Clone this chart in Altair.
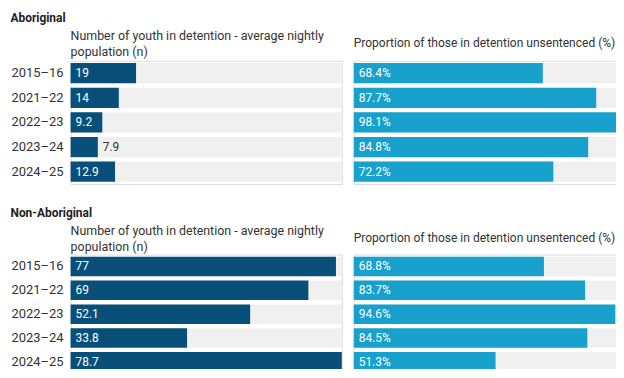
import altair as alt
import pandas as pd

years = ["2015–16", "2021–22", "2022–23", "2023–24", "2024–25"]
abor_n = [19, 14, 9.2, 7.9, 12.9]
abor_pct = [68.4, 87.7, 98.1, 84.8, 72.2]
non_n = [77, 69, 52.1, 33.8, 78.7]
non_pct = [68.8, 83.7, 94.6, 84.5, 51.3]

header_n = ["Number of youth in detention - average nightly", "population (n)"]
header_pct = "Proportion of those in detention unsentenced (%)"

DARK = "#08507a"
LIGHT = "#18a1cd"
BG = "#f0f0f0"
TXT = "#333333"
FONT = "Roboto"

n_max = max(abor_n + non_n)
pct_max = max(abor_pct + non_pct)


def panel(values, vmax, color, header, show_axis, is_pct, title_offset, width, height, hsize):
    df = pd.DataFrame({"year": years, "v": values})
    yaxis = (
        alt.Axis(
            title=None, ticks=False, domain=False, labelAlign="left",
            labelPadding=60, labelFontSize=13, labelColor=TXT, labelFont=FONT,
        )
        if show_axis
        else None
    )
    base = alt.Chart(df).encode(
        y=alt.Y(
            "year:N", sort=years, axis=yaxis,
            scale=alt.Scale(paddingInner=0.18, paddingOuter=0.09),
        )
    )
    xscale = alt.Scale(domain=[0, vmax], nice=False, zero=True)
    bg = base.transform_calculate(full=str(vmax)).mark_bar(color=BG).encode(
        x=alt.X("full:Q", scale=xscale, axis=None)
    )
    bar = base.mark_bar(color=color).encode(
        x=alt.X("v:Q", scale=xscale, axis=None)
    )
    if is_pct:
        lab = "format(datum.v, '.1f') + '%'"
    else:
        lab = "format(datum.v, '~g')"
    txt = (
        base.transform_calculate(
            inside=f"datum.v / {vmax} >= 0.11",
            lab=lab,
        )
        .transform_calculate(pos="datum.inside ? 0 : datum.v")
        .mark_text(align="left", baseline="middle", dx=5, fontSize=12, font=FONT)
        .encode(
            x=alt.X("pos:Q", scale=xscale, axis=None),
            text="lab:N",
            color=alt.condition("datum.inside", alt.value("white"), alt.value(TXT)),
        )
    )
    return alt.layer(bg, bar, txt).properties(
        width=width,
        height=height,
        title=alt.TitleParams(
            text=header, anchor="start", frame="group", fontSize=hsize,
            fontWeight="normal", color=TXT, font=FONT, lineHeight=16,
            offset=title_offset,
        ),
    )


def section(name, n_vals, pct_vals, height, off_l, off_r):
    left = panel(n_vals, n_max, DARK, header_n, True, False, off_l, 273, height, 12.5)
    right = panel(pct_vals, pct_max, LIGHT, header_pct, False, True, off_r, 273, height, 12.1)
    return alt.hconcat(left, right, spacing=10).properties(
        title=alt.TitleParams(
            text=name, anchor="start", fontSize=12, fontWeight="bold",
            color="#222222", font=FONT, offset=5,
        )
    )


chart = (
    alt.vconcat(
        section("Aboriginal", abor_n, abor_pct, 124, 2, 12),
        section("Non-Aboriginal", non_n, non_pct, 120, 1, 11),
        spacing=22,
    )
    .properties(padding={"left": 2, "top": 3, "right": -10, "bottom": -7})
    .configure_view(stroke=None)
    .configure(background="white")
)

chart.save("out.html", embed_options={"renderer": "svg", "actions": False})
